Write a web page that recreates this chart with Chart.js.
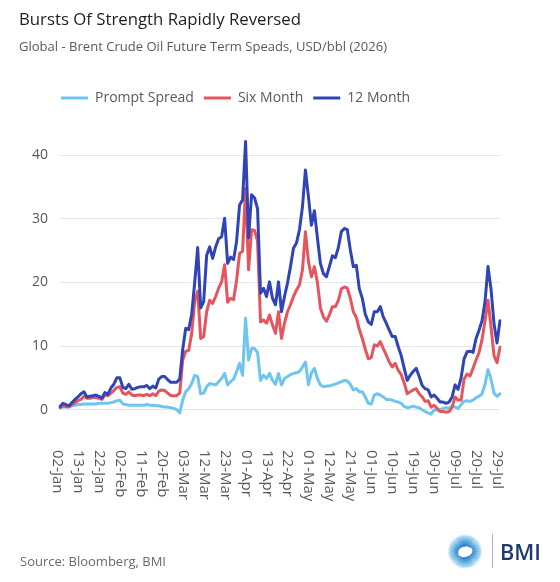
<!DOCTYPE html>
<html>
<head>
<meta charset="utf-8">
<script src="https://cdn.jsdelivr.net/npm/chart.js@4.4.1/dist/chart.umd.min.js"></script>
<style>
  html, body { margin: 0; padding: 0; background: #fff; }
  #wrap { position: relative; width: 560px; height: 582px; }
</style>
</head>
<body>
<div id="wrap"><canvas id="chartSpreads"></canvas></div>
<script>
// trading days shown on the x axis (weekends + Good Friday are skipped)
const startDay = '2026-01-02';
const endDay = '2026-07-29';
const closedDays = ['2026-04-03'];
const monthNames = ['Jan', 'Feb', 'Mar', 'Apr', 'May', 'Jun', 'Jul', 'Aug', 'Sep', 'Oct', 'Nov', 'Dec'];
const tickEvery = 7;
const yTicks = [0, 10, 20, 30, 40];

// USD/bbl, one value per trading day
const promptSpread = [
    0.3, 0.4, 0.4, 0.5, 0.6, 0.7, 0.8, 0.8, 0.9, 0.9,
    0.9, 0.9, 0.9, 1.0, 1.0, 1.0, 1.0, 1.1, 1.2, 1.4,
    1.5, 0.9, 0.8, 0.7, 0.7, 0.7, 0.7, 0.7, 0.7, 0.8,
    0.7, 0.7, 0.6, 0.6, 0.5, 0.4, 0.4, 0.3, 0.2, 0.0,
    -0.5, 1.5, 2.8, 3.3, 4.1, 5.4, 5.2, 2.5, 2.6, 3.6,
    4.1, 4.0, 3.9, 4.4, 4.9, 5.7, 3.9, 4.4, 4.8, 6.0,
    7.3, 5.4, 14.4, 7.8, 9.6, 9.6, 9.0, 4.6, 5.4, 4.9,
    5.7, 4.6, 4.0, 5.7, 3.9, 4.9, 5.2, 5.5, 5.7, 5.8,
    6.0, 6.7, 7.5, 3.9, 5.8, 6.5, 4.9, 3.9, 3.6, 3.7,
    3.7, 3.9, 4.0, 4.2, 4.4, 4.6, 4.5, 4.0, 3.1, 3.3,
    2.8, 2.8, 2.0, 1.0, 0.9, 2.3, 2.5, 2.3, 2.0, 1.6,
    1.6, 1.5, 1.3, 1.2, 1.0, 0.5, 0.3, 0.4, 0.55, 0.4,
    0.3, 0.0, -0.3, -0.5, -0.7, 0.0, -0.1, 0.0, 0.2, 0.3,
    0.2, 0.6, 0.4, 0.2, 0.8, 1.3, 1.4, 1.3, 1.5, 1.9,
    2.1, 2.5, 4.0, 6.3, 4.8, 2.6, 2.1, 2.5
];
const sixMonth = [
    0.3, 0.6, 0.5, 0.4, 0.8, 1.1, 1.4, 1.6, 2.1, 1.8,
    1.8, 1.9, 1.9, 1.8, 1.6, 2.3, 2.2, 2.6, 3.0, 3.5,
    3.6, 2.6, 2.4, 2.8, 2.3, 2.2, 2.3, 2.3, 2.2, 2.4,
    2.2, 2.5, 2.2, 2.9, 3.1, 3.0, 2.6, 2.2, 2.2, 2.2,
    2.6, 7.8, 9.2, 9.3, 12.0, 17.0, 18.6, 11.2, 11.5, 15.4,
    17.2, 16.7, 17.8, 19.1, 20.1, 22.8, 16.9, 17.5, 17.3, 20.4,
    24.6, 24.9, 34.8, 22.0, 28.3, 28.2, 26.5, 13.8, 14.1, 13.6,
    14.9, 13.3, 12.0, 15.4, 11.2, 13.6, 15.4, 16.5, 17.8, 18.8,
    19.6, 22.0, 28.0, 23.3, 20.9, 22.5, 20.0, 16.0, 14.6, 13.9,
    14.9, 16.2, 16.2, 17.2, 19.0, 19.3, 19.1, 17.5, 15.4, 14.5,
    12.6, 11.2, 9.5, 8.0, 8.2, 10.2, 10.0, 10.7, 9.6, 8.6,
    7.5, 6.7, 7.3, 6.2, 5.5, 4.2, 2.5, 2.8, 3.1, 3.3,
    2.5, 2.0, 1.3, 1.4, 0.4, 0.7, 0.2, -0.3, -0.3, -0.4,
    -0.3, 0.4, 2.0, 1.5, 1.5, 4.8, 5.6, 5.3, 6.5, 7.8,
    9.0, 11.0, 14.0, 17.2, 13.0, 8.5, 7.4, 9.8
];
const twelveMonth = [
    0.5, 1.0, 0.8, 0.6, 1.1, 1.6, 2.0, 2.5, 2.8, 2.0,
    2.1, 2.2, 2.3, 2.1, 1.8, 2.7, 2.4, 3.4, 4.0, 5.0,
    5.0, 3.5, 3.3, 4.0, 3.2, 3.3, 3.5, 3.6, 3.6, 3.8,
    3.3, 3.7, 3.4, 4.8, 5.2, 5.2, 4.7, 4.3, 4.3, 4.3,
    4.8, 9.5, 12.8, 12.6, 15.0, 20.0, 25.5, 16.0, 17.0, 24.3,
    25.6, 23.8, 25.6, 26.9, 27.2, 30.1, 23.0, 24.0, 23.6, 26.5,
    32.2, 33.0, 42.2, 27.0, 33.8, 33.3, 31.6, 18.3, 19.1, 17.8,
    20.1, 17.5, 16.5, 20.1, 15.4, 17.8, 19.9, 22.5, 25.4, 26.2,
    28.3, 31.9, 37.7, 33.5, 29.0, 31.3, 27.0, 23.0, 21.4, 20.9,
    22.5, 24.2, 23.9, 25.5, 28.0, 28.5, 28.3, 25.1, 22.5, 22.7,
    19.0, 17.5, 15.0, 13.8, 13.4, 15.4, 15.4, 16.2, 14.6, 13.6,
    12.5, 11.5, 11.5, 9.9, 8.5, 6.5, 4.6, 5.4, 6.0, 6.5,
    5.2, 3.8, 3.3, 3.1, 2.0, 2.3, 1.8, 1.2, 1.2, 1.0,
    1.2, 2.0, 3.9, 3.2, 5.0, 8.0, 9.1, 9.2, 9.0, 11.2,
    12.5, 14.0, 17.0, 22.5, 19.0, 13.5, 10.5, 14.0
];

function tradingDays() {
    let out = [];
    let d = new Date(startDay + 'T00:00:00Z');
    const end = new Date(endDay + 'T00:00:00Z');
    while (d <= end) {
        let iso = d.toISOString().slice(0, 10);
        let wd = d.getUTCDay();
        if (wd != 0 && wd != 6 && closedDays.indexOf(iso) < 0) {
            out.push(String(d.getUTCDate()).padStart(2, '0') + '-' + monthNames[d.getUTCMonth()]);
        }
        d.setUTCDate(d.getUTCDate() + 1);
    }
    return out;
}
const dayLabels = tradingDays();

// legend starts just right of the plot's left edge, not at the canvas edge
const legendOffset = {
    id: 'legendOffset',
    afterLayout: function (chart) {
        chart.legend.left = chart.chartArea.left - 9;
    }
};

// x labels read top-to-bottom, chart.js only rotates the other way
const dateLabels = {
    id: 'dateLabels',
    afterDraw: function (chart) {
        const ctx = chart.ctx;
        const xs = chart.scales.x;
        const top = chart.chartArea.bottom + 34;
        ctx.save();
        ctx.font = '15px "Open Sans"';
        ctx.fillStyle = '#595959';
        ctx.textAlign = 'left';
        ctx.textBaseline = 'alphabetic';
        dayLabels.forEach(function (lab, i) {
            if (i % tickEvery) return;
            ctx.save();
            ctx.translate(xs.getPixelForValue(i) - 7, top);
            ctx.rotate(Math.PI / 2);
            ctx.fillText(lab, 0, 0);
            ctx.restore();
        });
        ctx.restore();
    }
};

// titles, source line and the BMI mark
const frameText = {
    id: 'frameText',
    afterDraw: function (chart) {
        const ctx = chart.ctx;
        ctx.save();
        ctx.textAlign = 'left';
        ctx.textBaseline = 'alphabetic';
        ctx.fillStyle = '#1e1e1e';
        ctx.font = '17px "Open Sans"';
        ctx.fillText('Bursts Of Strength Rapidly Reversed', 19, 25, 282);
        ctx.fillStyle = '#595959';
        ctx.font = '13.5px "Open Sans"';
        ctx.fillText('Global - Brent Crude Oil Future Term Speads, USD/bbl (2026)', 19, 51, 368);
        ctx.fillStyle = '#6b6b6b';
        ctx.font = '13px "Open Sans"';
        ctx.fillText('Source: Bloomberg, BMI', 20, 566, 146);

        // sunburst
        const cx = 465, cy = 551.5;
        const grad = ctx.createRadialGradient(cx, cy, 5, cx, cy, 17);
        grad.addColorStop(0, '#1f74bd');
        grad.addColorStop(0.45, '#3a98d6');
        grad.addColorStop(1, '#9fd6f2');
        ctx.strokeStyle = grad;
        ctx.lineWidth = 0.7;
        for (let k = 0; k < 120; k++) {
            let a = k / 120 * Math.PI * 2;
            let r1 = 15.5 + (k % 3) * 0.8;
            ctx.beginPath();
            ctx.moveTo(cx + Math.cos(a) * 5, cy + Math.sin(a) * 5);
            ctx.lineTo(cx + Math.cos(a) * r1, cy + Math.sin(a) * r1);
            ctx.stroke();
        }
        ctx.fillStyle = '#ffffff';
        ctx.beginPath();
        ctx.ellipse(cx, cy, 7.5, 5.5, -0.25, 0, Math.PI * 2);
        ctx.fill();
        ctx.strokeStyle = '#2a80c6';
        ctx.lineWidth = 1;
        ctx.beginPath();
        ctx.ellipse(cx, cy, 7.5, 5.5, -0.25, Math.PI * 0.95, Math.PI * 1.85);
        ctx.stroke();

        ctx.strokeStyle = '#9ab8d2';
        ctx.lineWidth = 1;
        ctx.beginPath();
        ctx.moveTo(492.5, 534);
        ctx.lineTo(492.5, 568);
        ctx.stroke();

        ctx.fillStyle = '#1f3a70';
        ctx.font = '600 22px "Open Sans"';
        ctx.fillText('BMI', 500, 560, 41);
        ctx.restore();
    }
};

new Chart(document.getElementById('chartSpreads').getContext('2d'), {
    type: 'line',
    data: {
        labels: dayLabels,
        datasets: [
            {
                label: 'Prompt Spread',
                data: promptSpread,
                borderColor: '#6ec6f0',
                backgroundColor: '#6ec6f0',
                borderWidth: 3,
                order: 3
            },
            {
                label: 'Six Month',
                data: sixMonth,
                borderColor: '#e4555e',
                backgroundColor: '#e4555e',
                borderWidth: 3,
                order: 2
            },
            {
                label: '12 Month',
                data: twelveMonth,
                borderColor: '#3044b8',
                backgroundColor: '#3044b8',
                borderWidth: 3,
                order: 1
            }
        ]
    },
    plugins: [legendOffset, dateLabels, frameText],
    options: {
        responsive: true,
        maintainAspectRatio: false,
        animation: false,
        layout: {
            padding: { top: 81, left: 20, right: 60, bottom: 0 }
        },
        elements: {
            point: { radius: 0 },
            line: { tension: 0, borderJoinStyle: 'round', borderCapStyle: 'round' }
        },
        plugins: {
            legend: {
                display: true,
                position: 'top',
                align: 'start',
                labels: {
                    usePointStyle: true,
                    pointStyle: 'line',
                    pointStyleWidth: 27,
                    padding: 10,
                    color: '#595959',
                    font: { family: 'Open Sans', size: 14 },
                    sort: function (a, b) { return a.datasetIndex - b.datasetIndex; }
                }
            },
            tooltip: { enabled: false }
        },
        scales: {
            x: {
                type: 'category',
                offset: false,
                grid: { display: false },
                border: { display: false },
                ticks: { display: false },
                afterFit: function (axis) { axis.height = 166; }
            },
            y: {
                min: -1,
                max: 46.35,
                afterBuildTicks: function (axis) {
                    axis.ticks = yTicks.map(function (v) { return { value: v }; });
                },
                afterFit: function (axis) { axis.width = 40; },
                grid: { color: '#e6e6e6', lineWidth: 1, drawTicks: false },
                border: { display: false },
                ticks: {
                    padding: 12,
                    color: '#595959',
                    font: { family: 'Open Sans', size: 14 }
                }
            }
        }
    }
});
</script>
</body>
</html>
